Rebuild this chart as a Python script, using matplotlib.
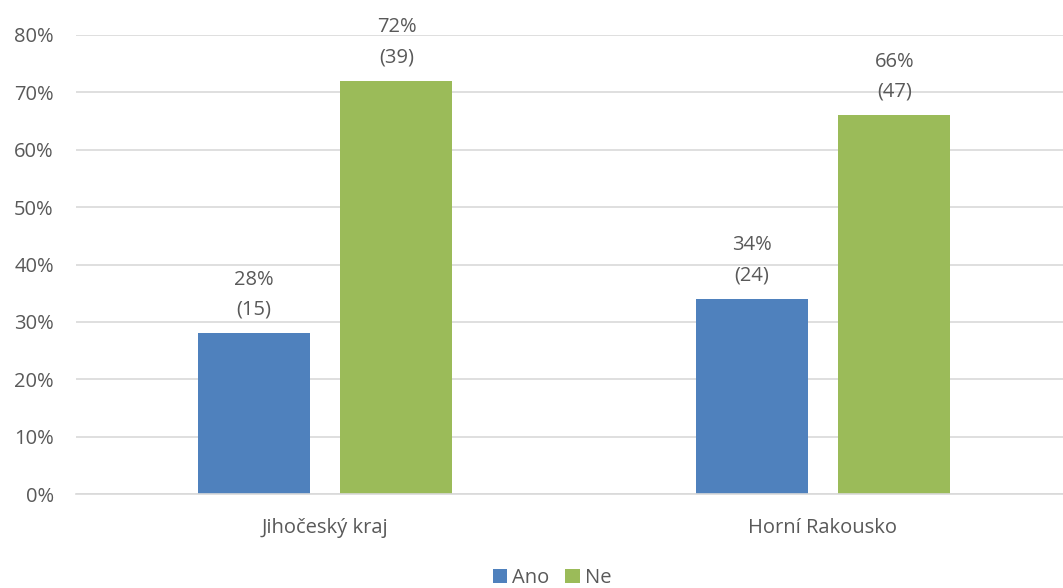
import numpy as np
import matplotlib
matplotlib.use('Agg')
from matplotlib import pyplot as plt
from matplotlib.ticker import PercentFormatter

categories = ['Jihočeský kraj', 'Horní Rakousko']
series = ['Ano', 'Ne']
ano_pct = [28, 34]
ne_pct = [72, 66]
ano_n = [15, 24]
ne_n = [39, 47]

colors = ['#4F81BD', '#9BBB59']
text_color = '#595959'
plt.rcParams['font.family'] = ['Open Sans', 'DejaVu Sans']
fs = 14.5

fig = plt.figure(figsize=(10.63, 5.88), dpi=100)
ax = fig.add_axes([76/1063, 94/588, 996/1063, 459/588])

x = np.arange(len(categories))
w = 0.225
off = 0.1435
values = [ano_pct, ne_pct]
counts = [ano_n, ne_n]
for i in range(len(series)):
    pos = x + (off if i else -off)
    bars = ax.bar(pos, values[i], width=w, color=colors[i], label=series[i], zorder=2)
    for b, v, n in zip(bars, values[i], counts[i]):
        ax.annotate('%d%%\n(%d)' % (v, n), (b.get_x() + b.get_width() / 2, v),
                    xytext=(0, 10), textcoords='offset points', ha='center', va='bottom',
                    fontsize=fs, color=text_color, linespacing=1.65)

ax.set_xlim(-0.5, 1.5)
ax.set_ylim(0, 80)
ax.set_yticks(range(0, 81, 10))
ax.yaxis.set_major_formatter(PercentFormatter(decimals=0))
ax.set_xticks(x)
ax.set_xticklabels(categories)
ax.grid(axis='y', color='#D9D9D9', linewidth=1.2, zorder=0)
for s in ['top', 'right', 'left']:
    ax.spines[s].set_visible(False)
ax.spines['bottom'].set_color('#D9D9D9')
ax.spines['bottom'].set_linewidth(1.2)
ax.tick_params(axis='both', length=0, labelsize=fs, colors=text_color)
ax.tick_params(axis='y', pad=16)
ax.tick_params(axis='x', pad=17)

leg = fig.legend(loc='center', bbox_to_anchor=(552/1063, 1 - 578/588), ncol=2, frameon=False,
                 fontsize=fs, handlelength=0.7, handleheight=0.7, handletextpad=0.25,
                 columnspacing=0.8, borderaxespad=0)
for t in leg.get_texts():
    t.set_color(text_color)

fig.savefig('out.png', dpi=100)
